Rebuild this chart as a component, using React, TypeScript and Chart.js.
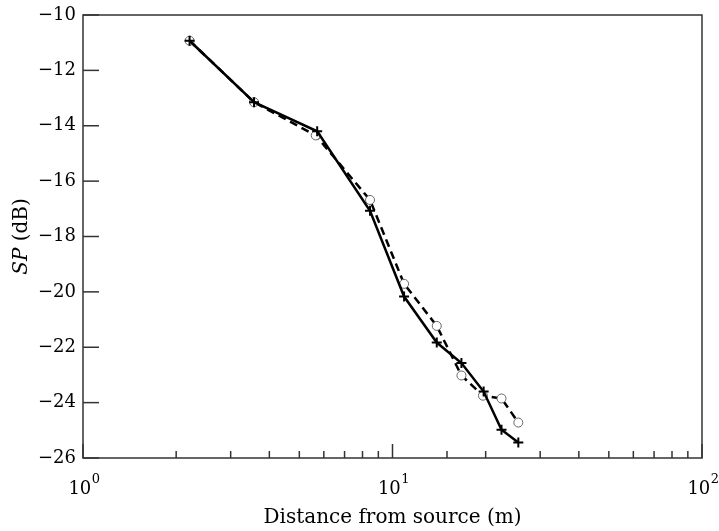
import React, { useEffect, useRef } from "react";
import { Chart, registerables } from "chart.js";

Chart.register(...registerables);

const distSolid = [2.21, 3.57, 5.71, 8.46, 10.9, 13.9, 16.7, 19.7, 22.5, 25.5];
const spSolid = [-10.93, -13.15, -14.2, -17.07, -20.17, -21.83, -22.57, -23.6, -24.98, -25.44];
const distDashed = [2.21, 3.57, 5.65, 8.46, 10.9, 13.9, 16.7, 19.6, 22.5, 25.5];
const spDashed = [-10.93, -13.15, -14.35, -16.68, -19.71, -21.23, -23.02, -23.75, -23.85, -24.72];

const xMajorValues = [1, 10, 100];
const xMajorExponents = ["0", "1", "2"];
const xMajorBase = "10";
const yTicks = [-26, -24, -22, -20, -18, -16, -14, -12, -10];
const xTitle = "Distance from source (m)";
const yTitleItalic = "SP";
const yTitleRest = " (dB)";

const FONT = "'DejaVu Serif', serif";

const framePlugin = {
  id: "frame",
  afterDraw(chart: any) {
    const { ctx, chartArea, scales } = chart;
    const { left, right, top, bottom } = chartArea;
    ctx.save();
    ctx.strokeStyle = "#333";
    ctx.lineWidth = 1.5;
    ctx.strokeRect(left, top, right - left, bottom - top);
    const ys = scales.y;
    ys.ticks.forEach((t: any) => {
      const py = ys.getPixelForValue(t.value);
      ctx.beginPath();
      ctx.moveTo(left, py);
      ctx.lineTo(left + 16, py);
      ctx.stroke();
    });
    const xs = scales.x;
    xs.ticks.forEach((t: any) => {
      const v = t.value;
      const px = xs.getPixelForValue(v);
      const exp = Math.log10(v);
      const major = Math.abs(exp - Math.round(exp)) < 1e-9;
      const len = major ? 14 : 7;
      ctx.beginPath();
      ctx.moveTo(px, bottom);
      ctx.lineTo(px, bottom - len);
      ctx.stroke();
    });
    // x tick labels: base with raised exponent
    ctx.fillStyle = "#000";
    ctx.textAlign = "left";
    ctx.textBaseline = "alphabetic";
    xMajorValues.forEach((v, i) => {
      const px = xs.getPixelForValue(v);
      ctx.font = `18px ${FONT}`;
      const wb = ctx.measureText(xMajorBase).width;
      ctx.font = `13px ${FONT}`;
      const we = ctx.measureText(xMajorExponents[i]).width;
      const x0 = px - (wb + we) / 2 + 1;
      const baseY = bottom + 36;
      ctx.font = `18px ${FONT}`;
      ctx.fillText(xMajorBase, x0, baseY);
      ctx.font = `13px ${FONT}`;
      ctx.fillText(xMajorExponents[i], x0 + wb + 0.5, baseY - 11);
    });
    // y title with italic part
    ctx.textBaseline = "middle";
    ctx.translate(22, (top + bottom) / 2);
    ctx.rotate(-Math.PI / 2);
    ctx.font = `italic 20px ${FONT}`;
    const w1 = ctx.measureText(yTitleItalic).width;
    ctx.font = `20px ${FONT}`;
    const w2 = ctx.measureText(yTitleRest).width;
    const start = -(w1 + w2) / 2;
    ctx.font = `italic 20px ${FONT}`;
    ctx.fillText(yTitleItalic, start, 0);
    ctx.font = `20px ${FONT}`;
    ctx.fillText(yTitleRest, start + w1, 0);
    ctx.restore();
  },
};

export default function App() {
  const ref = useRef<HTMLCanvasElement>(null);
  useEffect(() => {
    if (!ref.current) return;
    const chart = new Chart(ref.current, {
      type: "scatter",
      data: {
        datasets: [
          {
            label: "solid",
            data: distSolid.map((x, i) => ({ x, y: spSolid[i] })),
            showLine: true,
            borderColor: "#000",
            borderWidth: 2.5,
            pointStyle: "cross",
            pointRadius: 5,
            pointBorderColor: "#000",
            pointBorderWidth: 2,
            pointBackgroundColor: "#000",
          },
          {
            label: "dashed",
            data: distDashed.map((x, i) => ({ x, y: spDashed[i] })),
            showLine: true,
            borderColor: "#000",
            borderWidth: 2.5,
            borderDash: [8, 5],
            pointStyle: "circle",
            pointRadius: 4.5,
            pointBorderColor: "#666",
            pointBorderWidth: 1,
            pointBackgroundColor: "#fff",
          },
        ],
      },
      options: {
        responsive: false,
        animation: false,
        layout: { padding: { top: 15, right: 17, left: 0, bottom: 0 } },
        plugins: { legend: { display: false }, tooltip: { enabled: false } },
        scales: {
          x: {
            type: "logarithmic",
            min: 1,
            max: 100,
            grid: { display: false, drawTicks: false },
            border: { display: false },
            ticks: {
              autoSkip: false,
              maxRotation: 0,
              padding: 19,
              color: "#000",
              font: { family: FONT, size: 18 },
              callback: () => "",
            },
            title: {
              display: true,
              text: xTitle,
              color: "#000",
              font: { family: FONT, size: 20 },
              padding: { top: 0, bottom: 1 },
            },
            afterFit: (s: any) => {
              s.height = 73;
              s.paddingLeft = 0;
              s.paddingRight = 0;
            },
          },
          y: {
            min: -26,
            max: -10,
            grid: { display: false, drawTicks: false },
            border: { display: false },
            afterBuildTicks: (s: any) => {
              s.ticks = yTicks.map((v) => ({ value: v }));
            },
            ticks: {
              padding: 7,
              color: "#000",
              font: { family: FONT, size: 18 },
              callback: (v: any) => (Number(v) < 0 ? "\u2212" : "") + Math.abs(Number(v)),
            },
            afterFit: (s: any) => {
              s.width = 83;
              s.paddingTop = 0;
              s.paddingBottom = 0;
            },
          },
        },
      },
      plugins: [framePlugin],
    });
    return () => chart.destroy();
  }, []);
  return (
    <div style={{ position: "fixed", left: 0, top: 0, width: 719, height: 531, background: "#fff" }}>
      <canvas ref={ref} width={719} height={531} style={{ width: 719, height: 531 }} />
    </div>
  );
}
